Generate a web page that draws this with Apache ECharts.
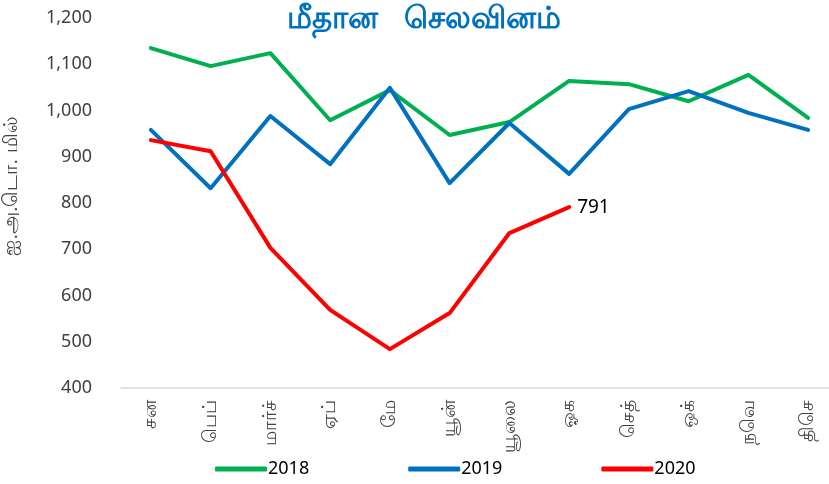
<!DOCTYPE html>
<html>
<head>
<meta charset="utf-8">
<script src="https://cdn.jsdelivr.net/npm/echarts@6/dist/echarts.min.js"></script>
<style>
  html, body { margin: 0; padding: 0; background: #fff; }
  #chart { width: 829px; height: 484px; }
</style>
</head>
<body>
<div id="chart"></div>
<script>
const months = ['சன', 'பெப்', 'மார்ச்', 'ஏப்', 'மே', 'யூன்', 'யூலை', 'ஓக', 'செத்', 'ஒக்', 'நவெ', 'திசெ']
const data2018 = [1135, 1096, 1124, 979, 1044, 947, 975, 1064, 1057, 1020, 1077, 984]
const data2019 = [958, 832, 988, 884, 1049, 843, 973, 863, 1003, 1042, 995, 958]
const data2020 = [936, 912, 703, 569, 484, 562, 735, 791]

const chart = echarts.init(document.getElementById('chart'))

const lineSeries = (name, data, color) => ({
  name: name,
  type: 'line',
  data: data,
  symbol: 'none',
  lineStyle: { width: 4, color: color, cap: 'round', join: 'round' },
  itemStyle: { color: color }
})

const s2020 = lineSeries('2020', data2020, '#ff0000')
s2020.endLabel = {
  show: true,
  formatter: '{c}',
  color: '#000',
  fontSize: 19,
  fontFamily: 'Noto Sans',
  offset: [0, 0]
}

chart.setOption({
  animation: false,
  title: {
    text: 'மீதான   செலவினம்',
    left: 419,
    top: -1,
    textAlign: 'center',
    textStyle: { color: '#0070c0', fontSize: 31, fontWeight: 'bold' }
  },
  grid: { left: 121, right: -9, top: 18, bottom: 96, outerBoundsMode: 'none', containLabel: false },
  legend: {
    bottom: 1,
    left: 210,
    itemGap: 99,
    itemWidth: 52,
    itemHeight: 5,
    icon: 'roundRect',
    textStyle: { fontSize: 18, color: '#000', fontFamily: 'Noto Sans', padding: [0, 0, 0, -4] },
    data: ['2018', '2019', '2020']
  },
  xAxis: {
    type: 'category',
    data: months,
    boundaryGap: true,
    axisLine: { lineStyle: { color: '#d9d9d9', width: 1.5 } },
    axisTick: { show: false },
    axisLabel: { rotate: 90, color: '#404040', fontSize: 19, margin: 12 }
  },
  yAxis: {
    type: 'value',
    min: 400,
    max: 1200,
    interval: 100,
    name: 'ஐ.அ.டொ. மில்',
    nameLocation: 'middle',
    nameGap: 100,
    nameTextStyle: { color: '#404040', fontSize: 20, padding: [0, 0, 0, 34] },
    splitLine: { show: false },
    axisLine: { show: false },
    axisTick: { show: false },
    axisLabel: {
      color: '#404040',
      fontSize: 18,
      fontFamily: 'Noto Sans',
      margin: 29,
      formatter: v => v.toLocaleString('en-US')
    }
  },
  series: [
    lineSeries('2018', data2018, '#00b050'),
    lineSeries('2019', data2019, '#0070c0'),
    s2020
  ]
})
</script>
</body>
</html>
